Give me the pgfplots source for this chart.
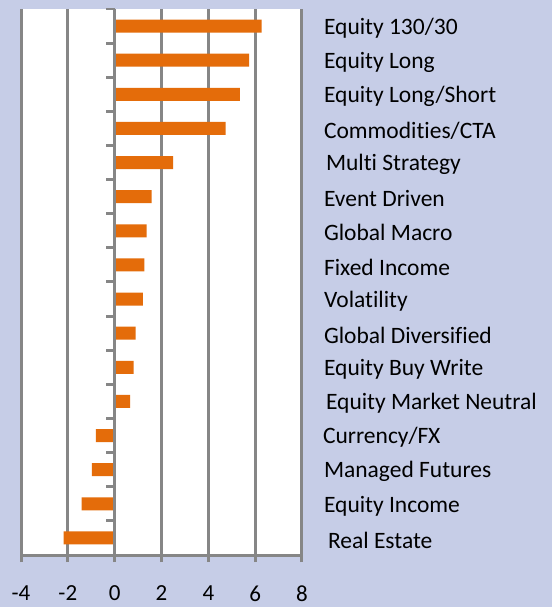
\documentclass[border=0pt]{standalone}
\usepackage{pgfplots}
\pgfplotsset{compat=1.18}
\usepackage{fontspec}
\setmainfont{Carlito}[Ligatures={NoCommon}]
\definecolor{bg}{RGB}{198,205,231}
\definecolor{barorange}{RGB}{228,108,10}
\definecolor{gridgray}{RGB}{134,134,134}
\begin{document}
\begin{tikzpicture}[x=1pt,y=1pt]
\path[use as bounding box, fill=bg] (0,0) rectangle (552,607);
\begin{axis}[
  at={(21pt,52pt)}, anchor=south west,
  scale only axis, width=281pt, height=546pt,
  xmin=-4, xmax=8, ymin=0.5, ymax=16.5,
  xbar, bar width=13pt,
  axis background/.style={fill=white},
  axis x line*=bottom, axis y line*=right,
  y axis line style={draw=none},
  x axis line style={gridgray, line width=3pt, -},
  xtick={-4,-2,0,2,4,6,8},
  xmajorgrids,
  grid style={gridgray, line width=3pt},
  x tick style={gridgray, line width=3pt},
  y tick style={draw=none},
  major tick length=7pt,
  tick align=outside,
  /pgf/number format/assume math mode=true,
  ticklabel style={text=black},
  xticklabel style={font=\fontsize{23}{27}\selectfont, yshift=-20pt},
  ytick={1,...,16},
  yticklabels={{\hspace*{4pt}Real Estate},{Equity Income},{Managed Futures},{\hspace*{-1pt}Currency/FX},{\hspace*{2pt}Equity Market Neutral},{Equity Buy Write},{Global Diversified},{Volatility},{Fixed Income},{Global Macro},{Event Driven},{\hspace*{2pt}Multi Strategy},{Commodities/CTA},{Equity Long/Short},{Equity Long},{Equity 130/30}},
  yticklabel style={font=\fontsize{23.5}{28}\selectfont, anchor=west, xshift=11.5pt, yshift=-2pt},
]
\addplot[fill=barorange, draw=none] coordinates {
  (-2.18,1) (-1.41,2) (-0.97,3) (-0.80,4) (0.66,5) (0.81,6) (0.89,7) (1.20,8)
  (1.27,9) (1.37,10) (1.58,11) (2.50,12) (4.74,13) (5.35,14) (5.74,15) (6.28,16)
};
\draw[gridgray, line width=3pt] (axis cs:0,0.5) -- (axis cs:0,16.5);
\pgfplotsinvokeforeach{0.5,1.5,2.5,3.5,4.5,5.5,6.5,7.5,8.5,9.5,10.5,11.5,12.5,13.5,14.5,15.5,16.5}{
  \draw[gridgray, line width=3pt] (axis cs:0,#1) -- ([xshift=-9pt]axis cs:0,#1);
}
\end{axis}
\end{tikzpicture}
\end{document}
